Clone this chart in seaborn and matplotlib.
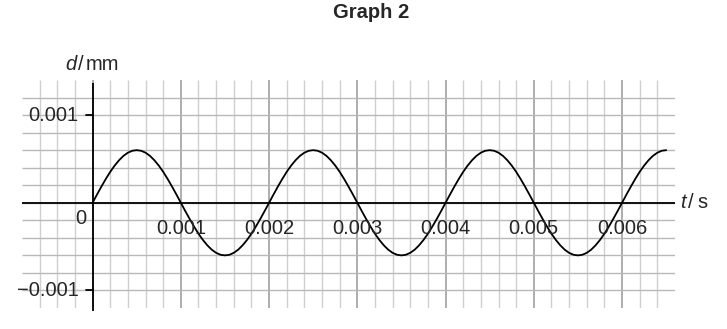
import numpy as np
import pandas as pd
import matplotlib
matplotlib.use("Agg")
import matplotlib.pyplot as plt
import seaborn as sns

sns.set_theme(style="white")
plt.rcParams['font.family'] = ['Liberation Sans', 'DejaVu Sans']

t_values = [round(i * 0.00005, 5) for i in range(131)]
d_values = [
    0.0, 0.0000939, 0.000185, 0.000272, 0.000353, 0.000424, 0.000485, 0.000535, 0.000571, 0.000593,
    0.0006, 0.000593, 0.000571, 0.000535, 0.000485, 0.000424, 0.000353, 0.000272, 0.000185, 0.0000939,
    0.0, -0.0000939, -0.000185, -0.000272, -0.000353, -0.000424, -0.000485, -0.000535, -0.000571, -0.000593,
    -0.0006, -0.000593, -0.000571, -0.000535, -0.000485, -0.000424, -0.000353, -0.000272, -0.000185, -0.0000939,
    0.0, 0.0000939, 0.000185, 0.000272, 0.000353, 0.000424, 0.000485, 0.000535, 0.000571, 0.000593,
    0.0006, 0.000593, 0.000571, 0.000535, 0.000485, 0.000424, 0.000353, 0.000272, 0.000185, 0.0000939,
    0.0, -0.0000939, -0.000185, -0.000272, -0.000353, -0.000424, -0.000485, -0.000535, -0.000571, -0.000593,
    -0.0006, -0.000593, -0.000571, -0.000535, -0.000485, -0.000424, -0.000353, -0.000272, -0.000185, -0.0000939,
    0.0, 0.0000939, 0.000185, 0.000272, 0.000353, 0.000424, 0.000485, 0.000535, 0.000571, 0.000593,
    0.0006, 0.000593, 0.000571, 0.000535, 0.000485, 0.000424, 0.000353, 0.000272, 0.000185, 0.0000939,
    0.0, -0.0000939, -0.000185, -0.000272, -0.000353, -0.000424, -0.000485, -0.000535, -0.000571, -0.000593,
    -0.0006, -0.000593, -0.000571, -0.000535, -0.000485, -0.000424, -0.000353, -0.000272, -0.000185, -0.0000939,
    0.0, 0.0000939, 0.000185, 0.000272, 0.000353, 0.000424, 0.000485, 0.000535, 0.000571, 0.000593,
    0.0006,
]
x_tick_values = [0.001, 0.002, 0.003, 0.004, 0.005, 0.006]
x_tick_labels = ["0.001", "0.002", "0.003", "0.004", "0.005", "0.006"]
y_tick_values = [0.001, -0.001]
y_tick_labels = ["0.001", "\u22120.001"]

df = pd.DataFrame({"t": t_values, "d": d_values})

W, H = 727, 329
fig = plt.figure(figsize=(W / 100, H / 100), dpi=100)
x0, x1 = -0.0008, 0.0066
y0, y1 = -0.0012, 0.0014
left, right, top, bottom = 22, 675, 80, 308
ax = fig.add_axes([left / W, 1 - bottom / H, (right - left) / W, (bottom - top) / H])
ax.set_xlim(x0, x1)
ax.set_ylim(y0, y1)
for s in ax.spines.values():
    s.set_visible(False)
ax.set_xticks([])
ax.set_yticks([])
ax.set_facecolor("white")

# grid
minor_c = "#cfcfcf"
major_c = "#a0a0a0"
for k in range(-3, 33):
    xv = k * 0.0002
    c = major_c if k % 5 == 0 else minor_c
    ax.vlines(xv, y0, y1, color=c, lw=1.2 if k % 5 == 0 else 1.0, zorder=1)
for k in range(-5, 7):
    yv = k * 0.0002
    ax.hlines(yv, x0, x1, color="#b8b8b8", lw=1.0, zorder=1)

# axes lines
ax.plot([x0, x1], [0, 0], color="black", lw=1.3, zorder=3, solid_capstyle="butt")
ax.plot([0, 0], [-0.00123, 0.00137], color="black", lw=1.3, zorder=3, clip_on=False, solid_capstyle="butt")

# curve
sns.lineplot(data=df, x="t", y="d", ax=ax, color="black", lw=1.3, zorder=4, legend=False)
ax.set_xlabel("")
ax.set_ylabel("")

fs = 14.5
# y ticks
for v, lab in zip(y_tick_values, y_tick_labels):
    ax.plot([-0.00008, 0], [v, v], color="black", lw=1.3, zorder=3, clip_on=False)
    ax.text(-0.00016, v, lab, ha="right", va="center", fontsize=fs, zorder=5)
# x ticks
for v, lab in zip(x_tick_values, x_tick_labels):
    ax.text(v, -0.00029, lab, ha="center", va="center", fontsize=fs, zorder=5)
ax.text(-0.00013, -0.00018, "0", ha="center", va="center", fontsize=fs, zorder=5)

# axis labels
fig.text(65 / W, 1 - 64 / H, "d", fontsize=fs, ha="left", va="center", style="italic")
fig.text(77.5 / W, 1 - 64 / H, "/", fontsize=fs, ha="left", va="center")
fig.text(86 / W, 1 - 64 / H, "mm", fontsize=fs, ha="left", va="center")
fig.text(680 / W, 1 - 203 / H, "t", fontsize=fs, ha="left", va="center", style="italic")
fig.text(688.5 / W, 1 - 203 / H, "/", fontsize=fs, ha="left", va="center")
fig.text(697 / W, 1 - 203 / H, "s", fontsize=fs, ha="left", va="center")

fig.text(0.5 + 8 / W, 1 - 13 / H, "Graph 2", fontsize=14.5, fontweight="bold", ha="center", va="center")

fig.savefig("out.png", dpi=100, facecolor="white")
